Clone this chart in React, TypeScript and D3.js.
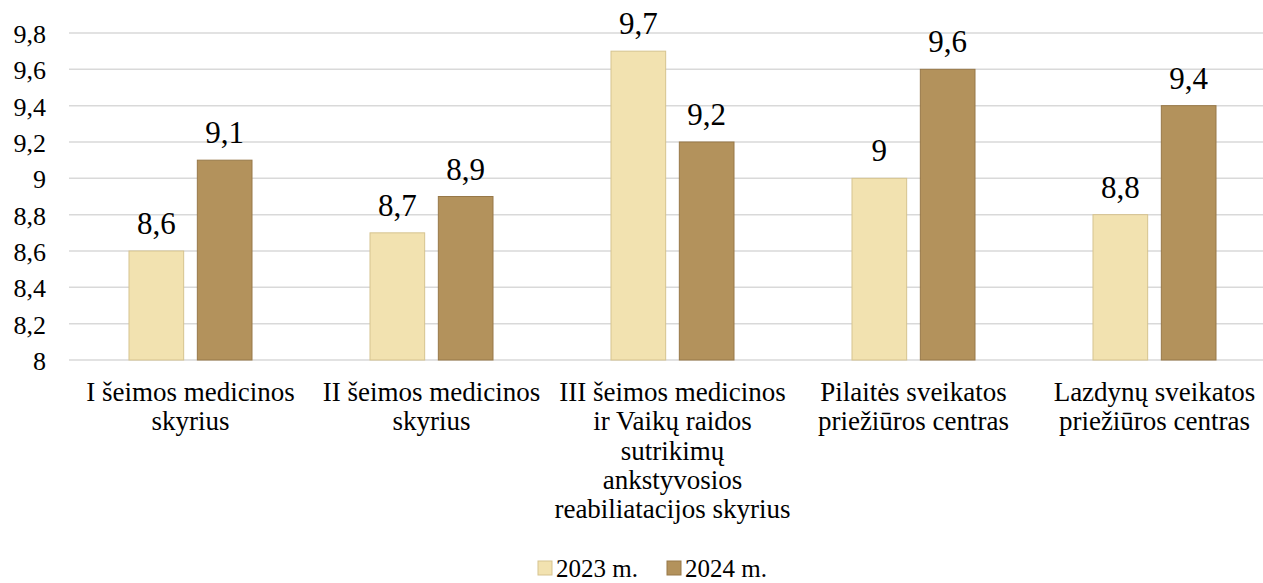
import React, { useEffect, useRef } from "react";
import * as d3 from "d3";

const categories = [
  ["I šeimos medicinos", "skyrius"],
  ["II šeimos medicinos", "skyrius"],
  ["III šeimos medicinos", "ir Vaikų raidos", "sutrikimų", "ankstyvosios", "reabiliatacijos skyrius"],
  ["Pilaitės sveikatos", "priežiūros centras"],
  ["Lazdynų sveikatos", "priežiūros centras"],
];
const seriesNames = ["2023 m.", "2024 m."];
const values2023 = [8.6, 8.7, 9.7, 9, 8.8];
const values2024 = [9.1, 8.9, 9.2, 9.6, 9.4];
const yTicks = [8, 8.2, 8.4, 8.6, 8.8, 9, 9.2, 9.4, 9.6, 9.8];

const fills = ["#F2E2B0", "#B3925C"];
const strokes = ["#D6C38F", "#977848"];
const fmt = (v: number) => String(v).replace(".", ",");
const font = "Liberation Serif, Tinos, Times New Roman, DejaVu Serif, serif";

export default function App() {
  const ref = useRef<SVGSVGElement>(null);

  useEffect(() => {
    const svg = d3.select(ref.current);
    svg.selectAll("*").remove();

    const width = 1263;
    const height = 583;
    const left = 70;
    const right = 1275; // plot runs past the right edge
    const y = d3.scaleLinear().domain([8, 9.8]).range([360, 33]);
    const x0 = d3.scaleBand<number>().domain(d3.range(categories.length)).range([left, right]);
    const groupW = 123;
    const x1 = d3.scaleBand<number>().domain([0, 1]).range([0, groupW]).paddingInner(0.2);

    svg.attr("width", width).attr("height", height).attr("font-family", font);

    // gridlines
    svg.append("g")
      .selectAll("line")
      .data(yTicks)
      .join("line")
      .attr("x1", left - 1)
      .attr("x2", width)
      .attr("y1", (d) => y(d))
      .attr("y2", (d) => y(d))
      .attr("stroke", "#D9D9D9")
      .attr("stroke-width", 1.5);

    // y tick labels
    svg.append("g")
      .selectAll("text")
      .data(yTicks)
      .join("text")
      .attr("x", 46)
      .attr("y", (d) => y(d) + 10)
      .attr("text-anchor", "end")
      .attr("font-size", 26)
      .attr("fill", "#000")
      .text((d) => fmt(+d.toFixed(1)));

    const series = [values2023, values2024];
    series.forEach((vals, si) => {
      const g = svg.append("g");
      const bx = (i: number) => x0(i)! + (x0.bandwidth() - groupW) / 2 + x1(si)!;
      g.selectAll("rect")
        .data(vals)
        .join("rect")
        .attr("x", (_, i) => bx(i))
        .attr("y", (d) => y(d))
        .attr("width", x1.bandwidth())
        .attr("height", (d) => y(8) - y(d))
        .attr("fill", fills[si])
        .attr("stroke", strokes[si])
        .attr("stroke-width", 1);
      g.selectAll("text")
        .data(vals)
        .join("text")
        .attr("x", (_, i) => bx(i) + x1.bandwidth() / 2)
        .attr("y", (d) => y(d) - 17)
        .attr("text-anchor", "middle")
        .attr("font-size", 31)
        .attr("fill", "#000")
        .text((d) => fmt(d));
    });

    // category labels
    const cat = svg.append("g")
      .selectAll("text")
      .data(categories)
      .join("text")
      .attr("x", (_, i) => x0(i)! + x0.bandwidth() / 2)
      .attr("y", 401)
      .attr("text-anchor", "middle")
      .attr("font-size", 27)
      .attr("fill", "#000");
    cat.selectAll("tspan")
      .data((d) => d)
      .join("tspan")
      .attr("x", function () {
        return (this.parentNode as SVGTextElement).getAttribute("x");
      })
      .attr("dy", (_, j) => (j === 0 ? 0 : 29.3))
      .text((d) => d);

    // legend
    const legendX = [538, 667];
    const lg = svg.append("g");
    seriesNames.forEach((name, i) => {
      lg.append("rect")
        .attr("x", legendX[i])
        .attr("y", 561)
        .attr("width", 14)
        .attr("height", 14)
        .attr("fill", fills[i])
        .attr("stroke", strokes[i]);
      lg.append("text")
        .attr("x", legendX[i] + 18)
        .attr("y", 577)
        .attr("font-size", 25)
        .attr("fill", "#000")
        .text(name);
    });
  }, []);

  return <svg ref={ref} style={{ position: "absolute", left: 0, top: 0 }} />;
}
